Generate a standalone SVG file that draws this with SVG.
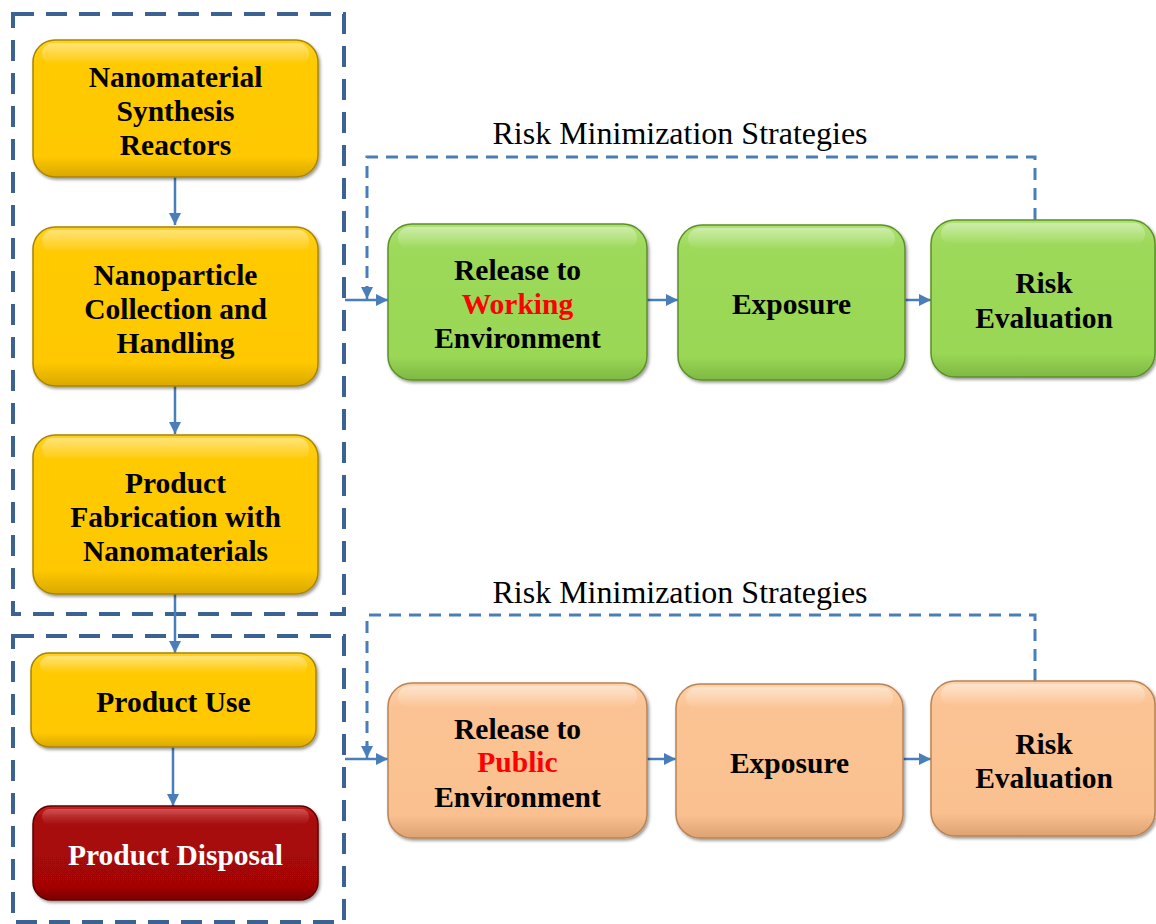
<svg xmlns="http://www.w3.org/2000/svg" width="1156" height="924" viewBox="0 0 1156 924">
<defs>
<linearGradient id="gy" x1="0" y1="0" x2="0" y2="1"><stop offset="0" stop-color="#FFD21F"/><stop offset="0.15" stop-color="#FFCA05"/><stop offset="0.85" stop-color="#FFC800"/><stop offset="1" stop-color="#D9A800"/></linearGradient>
<linearGradient id="gg" x1="0" y1="0" x2="0" y2="1"><stop offset="0" stop-color="#ADE272"/><stop offset="0.15" stop-color="#9DD95A"/><stop offset="0.85" stop-color="#99D755"/><stop offset="1" stop-color="#7FB843"/></linearGradient>
<linearGradient id="go" x1="0" y1="0" x2="0" y2="1"><stop offset="0" stop-color="#FDD3AC"/><stop offset="0.15" stop-color="#FBC393"/><stop offset="0.85" stop-color="#FAC090"/><stop offset="1" stop-color="#DDA271"/></linearGradient>
<linearGradient id="gr" x1="0" y1="0" x2="0" y2="1"><stop offset="0" stop-color="#C82020"/><stop offset="0.15" stop-color="#A80808"/><stop offset="0.85" stop-color="#A50606"/><stop offset="1" stop-color="#7A0000"/></linearGradient>
<linearGradient id="hl" x1="0" y1="0" x2="0" y2="1"><stop offset="0" stop-color="#fff" stop-opacity="0.4"/><stop offset="1" stop-color="#fff" stop-opacity="0"/></linearGradient>
<filter id="sh" x="-10%" y="-10%" width="120%" height="130%"><feDropShadow dx="1.5" dy="2" stdDeviation="1.5" flood-color="#000" flood-opacity="0.4"/></filter>
<marker id="ar" viewBox="0 0 10 10" refX="10" refY="5" markerWidth="5" markerHeight="5" orient="auto" markerUnits="strokeWidth"><path d="M0,0 L10,5 L0,10 z" fill="#4A7EBB"/></marker>
</defs>
<style>
.box{stroke-width:1.5}
.y{fill:url(#gy);stroke:#A88400}
.g{fill:url(#gg);stroke:#5E8F2A}
.o{fill:url(#go);stroke:#B98455}
.r{fill:url(#gr);stroke:#5E0000}
.t{font-family:"Liberation Serif","Times New Roman",Times,serif;font-weight:bold;font-size:29.5px;text-anchor:middle;fill:#000}
.w{fill:#fff}
.red{fill:#FF0000}
.lbl{font-family:"Liberation Serif","Times New Roman",Times,serif;font-size:32px;text-anchor:middle;fill:#000}
.grp{fill:none;stroke:#3B6293;stroke-width:4;stroke-dasharray:21 12}
.c{fill:none;stroke:#4A7EBB;stroke-width:2.5}
.fb{fill:none;stroke:#4A7EBB;stroke-width:3;stroke-dasharray:12 8}
.h{fill:url(#hl)}
</style>
<g id="groups">
<rect class="grp" x="13" y="14" width="331" height="600"/>
<rect class="grp" x="13" y="636" width="331" height="286"/>
</g>
<g id="connectors">
<line class="c" x1="175" y1="177" x2="175" y2="225" marker-end="url(#ar)"/>
<line class="c" x1="175" y1="386" x2="175" y2="434" marker-end="url(#ar)"/>
<line class="c" x1="175" y1="594" x2="175" y2="653" marker-end="url(#ar)"/>
<line class="c" x1="173" y1="747" x2="173" y2="806" marker-end="url(#ar)"/>
<line class="c" x1="345" y1="300" x2="388" y2="300" marker-end="url(#ar)"/>
<line class="c" x1="647" y1="300" x2="678" y2="300" marker-end="url(#ar)"/>
<line class="c" x1="905" y1="300" x2="931" y2="300" marker-end="url(#ar)"/>
<line class="c" x1="345" y1="759" x2="388" y2="759" marker-end="url(#ar)"/>
<line class="c" x1="647" y1="759" x2="676" y2="759" marker-end="url(#ar)"/>
<line class="c" x1="903" y1="759" x2="931" y2="759" marker-end="url(#ar)"/>
<path class="fb" d="M1035,220 V157 H367 V288"/>
<path class="c" d="M367,286 V299" marker-end="url(#ar)"/>
<path class="fb" d="M1035,681 V615 H367 V746"/>
<path class="c" d="M367,744 V758" marker-end="url(#ar)"/>
</g>
<g id="n1"><rect class="box y" filter="url(#sh)" x="33" y="40" width="285" height="137" rx="22"/><rect class="h" x="42" y="43" width="267" height="22" rx="11"/>
<text class="t" x="175.5" y="87">Nanomaterial</text><text class="t" x="175.5" y="121">Synthesis</text><text class="t" x="175.5" y="155">Reactors</text></g>
<g id="n2"><rect class="box y" filter="url(#sh)" x="33" y="227" width="285" height="159" rx="22"/><rect class="h" x="42" y="230" width="267" height="22" rx="11"/>
<text class="t" x="175.5" y="285">Nanoparticle</text><text class="t" x="175.5" y="319">Collection and</text><text class="t" x="175.5" y="353">Handling</text></g>
<g id="n3"><rect class="box y" filter="url(#sh)" x="33" y="435" width="285" height="159" rx="22"/><rect class="h" x="42" y="438" width="267" height="22" rx="11"/>
<text class="t" x="175.5" y="493">Product</text><text class="t" x="175.5" y="527">Fabrication with</text><text class="t" x="175.5" y="561">Nanomaterials</text></g>
<g id="n4"><rect class="box y" filter="url(#sh)" x="31" y="653" width="285" height="94" rx="18"/><rect class="h" x="40" y="656" width="267" height="18" rx="9"/>
<text class="t" x="173.5" y="712">Product Use</text></g>
<g id="n5"><rect class="box r" filter="url(#sh)" x="33" y="806" width="285" height="94" rx="18"/><rect class="h" x="42" y="809" width="267" height="16" rx="8" opacity="0.6"/>
<text class="t w" x="175.5" y="865">Product Disposal</text></g>
<g id="g1"><rect class="box g" filter="url(#sh)" x="388" y="224" width="259" height="156" rx="24"/><rect class="h" x="398" y="227" width="239" height="22" rx="11"/>
<text class="t" x="517.5" y="280">Release to</text><text class="t red" x="517.5" y="314">Working</text><text class="t" x="517.5" y="348">Environment</text></g>
<g id="g2"><rect class="box g" filter="url(#sh)" x="678" y="225" width="227" height="155" rx="24"/><rect class="h" x="688" y="228" width="207" height="22" rx="11"/>
<text class="t" x="791.5" y="314">Exposure</text></g>
<g id="g3"><rect class="box g" filter="url(#sh)" x="931" y="220" width="224" height="157" rx="24"/><rect class="h" x="941" y="223" width="204" height="22" rx="11"/>
<text class="t" x="1044" y="293">Risk</text><text class="t" x="1044" y="328">Evaluation</text></g>
<g id="o1"><rect class="box o" filter="url(#sh)" x="388" y="683" width="259" height="155" rx="24"/><rect class="h" x="398" y="686" width="239" height="22" rx="11"/>
<text class="t" x="517.5" y="739">Release to</text><text class="t red" x="517.5" y="772">Public</text><text class="t" x="517.5" y="807">Environment</text></g>
<g id="o2"><rect class="box o" filter="url(#sh)" x="676" y="684" width="227" height="154" rx="24"/><rect class="h" x="686" y="687" width="207" height="22" rx="11"/>
<text class="t" x="789.5" y="773">Exposure</text></g>
<g id="o3"><rect class="box o" filter="url(#sh)" x="931" y="681" width="224" height="155" rx="24"/><rect class="h" x="941" y="684" width="204" height="22" rx="11"/>
<text class="t" x="1044" y="754">Risk</text><text class="t" x="1044" y="788">Evaluation</text></g>
<g id="labels">
<text class="lbl" x="680" y="144">Risk Minimization Strategies</text>
<text class="lbl" x="680" y="603">Risk Minimization Strategies</text>
</g>
</svg>
